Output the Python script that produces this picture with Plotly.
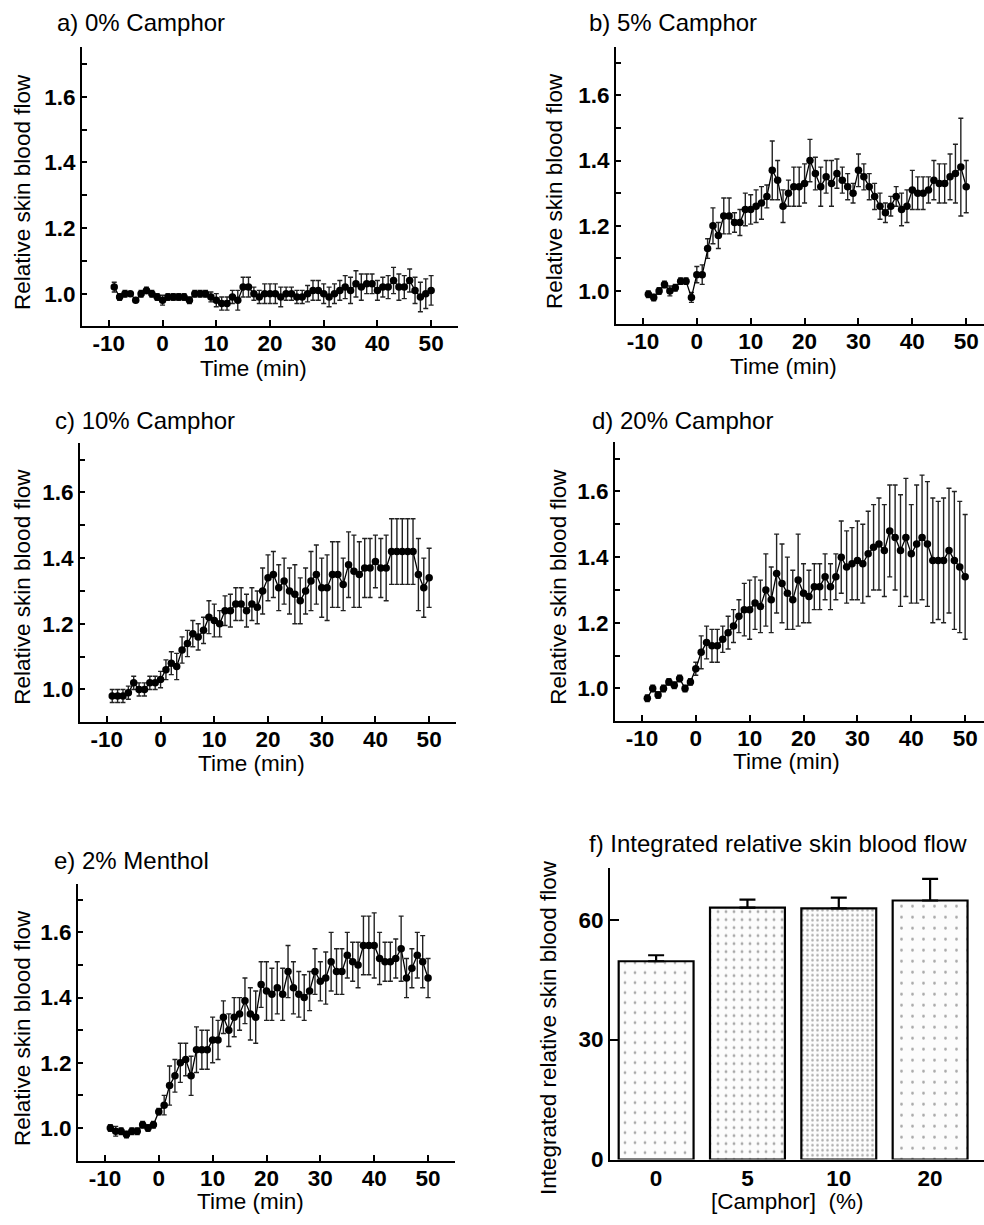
import plotly.graph_objects as go

W, H = 984, 1225

time_min = list(range(-9, 51))

camphor0 = [1.02, 0.99, 1.00, 1.00, 0.98, 1.00, 1.01, 1.00, 0.99,
            0.98, 0.99, 0.99, 0.99, 0.99, 0.98, 1.00, 1.00, 1.00, 0.99,
            0.98, 0.97, 0.97, 0.99, 0.98, 1.02, 1.02, 1.00, 0.99, 1.00,
            1.00, 1.00, 0.99, 1.00, 1.00, 0.99, 0.99, 1.00, 1.01, 1.01,
            1.00, 0.99, 1.00, 1.01, 1.02, 1.01, 1.03, 1.02, 1.03, 1.03,
            1.01, 1.02, 1.02, 1.04, 1.02, 1.02, 1.04, 1.01, 0.99, 1.00, 1.01]
camphor0_err = [0.015, 0.01, 0.01, 0.005, 0.005, 0.01, 0.01, 0.01, 0.01,
                0.015, 0.01, 0.01, 0.01, 0.01, 0.01, 0.01, 0.01, 0.01, 0.015,
                0.02, 0.02, 0.02, 0.02, 0.03, 0.03, 0.03, 0.02, 0.02, 0.03,
                0.03, 0.03, 0.03, 0.02, 0.02, 0.02, 0.02, 0.025, 0.03, 0.03,
                0.03, 0.03, 0.03, 0.03, 0.035, 0.04, 0.04, 0.04, 0.03, 0.03,
                0.03, 0.03, 0.035, 0.04, 0.04, 0.035, 0.035, 0.04, 0.045, 0.045, 0.045]

camphor5 = [0.99, 0.98, 1.00, 1.02, 1.00, 1.01, 1.03, 1.03, 0.98,
            1.05, 1.05, 1.13, 1.20, 1.17, 1.23, 1.23, 1.21, 1.21, 1.25,
            1.25, 1.26, 1.27, 1.29, 1.37, 1.34, 1.26, 1.30, 1.32, 1.32,
            1.33, 1.40, 1.36, 1.32, 1.35, 1.33, 1.36, 1.34, 1.32, 1.30,
            1.37, 1.35, 1.32, 1.29, 1.26, 1.24, 1.26, 1.29, 1.25, 1.26,
            1.31, 1.30, 1.30, 1.31, 1.34, 1.33, 1.33, 1.35, 1.36, 1.38, 1.32]
camphor5_err = [0.01, 0.01, 0.01, 0.01, 0.015, 0.01, 0.01, 0.01, 0.015,
                0.025, 0.03, 0.03, 0.055, 0.04, 0.055, 0.055, 0.03, 0.04, 0.05,
                0.045, 0.05, 0.05, 0.035, 0.09, 0.06, 0.05, 0.04, 0.06, 0.06,
                0.06, 0.065, 0.05, 0.06, 0.05, 0.07, 0.045, 0.04, 0.04, 0.03,
                0.05, 0.04, 0.04, 0.04, 0.04, 0.03, 0.03, 0.03, 0.05, 0.05,
                0.06, 0.05, 0.05, 0.04, 0.06, 0.06, 0.06, 0.07, 0.09, 0.15, 0.08]

camphor10 = [0.98, 0.98, 0.98, 0.99, 1.02, 1.00, 1.00, 1.02, 1.02,
             1.03, 1.06, 1.08, 1.07, 1.12, 1.14, 1.17, 1.16, 1.18, 1.22,
             1.21, 1.20, 1.24, 1.24, 1.26, 1.26, 1.24, 1.26, 1.25, 1.30,
             1.34, 1.35, 1.31, 1.33, 1.30, 1.29, 1.27, 1.30, 1.33, 1.35,
             1.31, 1.31, 1.35, 1.35, 1.32, 1.38, 1.36, 1.35, 1.37, 1.37,
             1.39, 1.37, 1.37, 1.42, 1.42, 1.42, 1.42, 1.42, 1.35, 1.31, 1.34]
camphor10_err = [0.02, 0.02, 0.02, 0.02, 0.02, 0.02, 0.02, 0.02, 0.02,
                 0.025, 0.03, 0.035, 0.04, 0.04, 0.04, 0.04, 0.04, 0.04, 0.05,
                 0.05, 0.04, 0.045, 0.05, 0.05, 0.05, 0.05, 0.05, 0.05, 0.07,
                 0.07, 0.07, 0.07, 0.07, 0.07, 0.09, 0.07, 0.07, 0.09, 0.09,
                 0.09, 0.10, 0.10, 0.10, 0.08, 0.10, 0.11, 0.10, 0.09, 0.09,
                 0.08, 0.09, 0.10, 0.10, 0.10, 0.10, 0.10, 0.10, 0.11, 0.09, 0.09]

camphor20 = [0.97, 1.00, 0.98, 1.00, 1.02, 1.01, 1.03, 1.00, 1.02,
             1.06, 1.11, 1.14, 1.13, 1.13, 1.15, 1.17, 1.19, 1.22, 1.24,
             1.24, 1.26, 1.25, 1.30, 1.27, 1.35, 1.32, 1.29, 1.27, 1.33,
             1.29, 1.28, 1.31, 1.31, 1.34, 1.31, 1.34, 1.40, 1.37, 1.38,
             1.39, 1.38, 1.41, 1.43, 1.44, 1.42, 1.48, 1.46, 1.42, 1.46,
             1.41, 1.44, 1.46, 1.44, 1.39, 1.39, 1.39, 1.42, 1.39, 1.37, 1.34]
camphor20_err = [0.01, 0.01, 0.01, 0.01, 0.01, 0.01, 0.01, 0.01, 0.01,
                 0.02, 0.05, 0.05, 0.05, 0.05, 0.04, 0.05, 0.05, 0.05, 0.08,
                 0.09, 0.08, 0.08, 0.11, 0.10, 0.12, 0.12, 0.11, 0.09, 0.14,
                 0.09, 0.08, 0.07, 0.07, 0.07, 0.07, 0.07, 0.11, 0.11, 0.11,
                 0.12, 0.12, 0.13, 0.13, 0.14, 0.14, 0.14, 0.16, 0.17, 0.18,
                 0.15, 0.18, 0.19, 0.19, 0.19, 0.18, 0.19, 0.19, 0.21, 0.20, 0.19]

menthol2 = [1.00, 0.99, 0.99, 0.98, 0.99, 0.99, 1.01, 1.00, 1.01,
            1.05, 1.07, 1.13, 1.16, 1.20, 1.21, 1.16, 1.24, 1.24, 1.24,
            1.27, 1.27, 1.34, 1.30, 1.34, 1.35, 1.39, 1.35, 1.34, 1.44,
            1.42, 1.41, 1.43, 1.41, 1.48, 1.43, 1.41, 1.40, 1.42, 1.48,
            1.45, 1.46, 1.51, 1.48, 1.48, 1.53, 1.51, 1.50, 1.56, 1.56,
            1.56, 1.52, 1.51, 1.51, 1.52, 1.55, 1.46, 1.49, 1.53, 1.51, 1.46]
menthol2_err = [0.01, 0.015, 0.01, 0.01, 0.01, 0.01, 0.01, 0.01, 0.01,
                0.01, 0.03, 0.06, 0.05, 0.06, 0.05, 0.06, 0.07, 0.06, 0.06,
                0.07, 0.06, 0.05, 0.05, 0.06, 0.05, 0.07, 0.08, 0.08, 0.07,
                0.09, 0.08, 0.08, 0.08, 0.08, 0.08, 0.07, 0.07, 0.06, 0.07,
                0.06, 0.08, 0.09, 0.07, 0.07, 0.07, 0.06, 0.07, 0.09, 0.09,
                0.10, 0.08, 0.06, 0.06, 0.06, 0.10, 0.06, 0.06, 0.07, 0.08, 0.06]

x_tickvals = [-10, 0, 10, 20, 30, 40, 50]
x_ticktext = ["-10", "0", "10", "20", "30", "40", "50"]
y_tickvals = [1.0, 1.2, 1.4, 1.6]
y_ticktext = ["1.0", "1.2", "1.4", "1.6"]

bar_labels = ["0", "5", "10", "20"]
bar_values = [49.6, 63.0, 62.8, 64.8]
bar_errors = [1.5, 2.0, 2.7, 5.4]

panel_titles = ["a) 0% Camphor", "b) 5% Camphor", "c) 10% Camphor",
                "d) 20% Camphor", "e) 2% Menthol", "f) Integrated relative skin blood flow"]

FONT = "Liberation Sans, Arial, Helvetica, sans-serif"


def px_x(p):
    return p / W


def px_y(p):
    return 1 - p / H


fig = go.Figure()

panels = [
    (camphor0, camphor0_err, (82, 458), (48, 330), [-15, 55]),
    (camphor5, camphor5_err, (616, 984), (47, 327), [-15, 53.3]),
    (camphor10, camphor10_err, (80, 456), (448, 730), [-15, 55]),
    (camphor20, camphor20_err, (615, 984), (447, 729), [-15, 53.5]),
    (menthol2, menthol2_err, (78, 455), (893, 1173), [-15, 55]),
]

axis_common = dict(showline=True, linecolor="black", linewidth=2, mirror=False,
                   showgrid=False, zeroline=False, ticks="inside", tickcolor="black",
                   tickwidth=1.5,
                   tickfont=dict(family=FONT, size=22.5, color="black", weight="bold"))

layout_axes = {}
for i, (vals, errs, xd, yd, xr) in enumerate(panels):
    n = i + 1
    xa = "x" if n == 1 else f"x{n}"
    ya = "y" if n == 1 else f"y{n}"
    fig.add_trace(go.Scatter(
        x=time_min, y=vals, mode="lines+markers", xaxis=xa, yaxis=ya,
        line=dict(color="black", width=1.3),
        marker=dict(color="black", size=7.5, symbol="circle"),
        error_y=dict(type="data", array=errs, visible=True, color="#222222",
                     thickness=1.4, width=2.5),
        showlegend=False, cliponaxis=False))
    xkey = "xaxis" if n == 1 else f"xaxis{n}"
    ykey = "yaxis" if n == 1 else f"yaxis{n}"
    layout_axes[xkey] = dict(axis_common, domain=[px_x(xd[0]), min(px_x(xd[1]), 1.0)],
                             range=xr, anchor=ya, tickmode="array",
                             tickvals=x_tickvals, ticktext=x_ticktext, ticklen=6,
                             ticklabelstandoff=-4)
    layout_axes[ykey] = dict(axis_common, domain=[px_y(yd[1]), px_y(yd[0])],
                             range=[0.9, 1.75], anchor=xa, tickmode="array",
                             tickvals=y_tickvals, ticktext=y_ticktext,
                             ticklen=5,
                             minor=dict(tickvals=[1.1, 1.3, 1.5, 1.7], ticks="inside",
                                        ticklen=5, tickcolor="black", tickwidth=1.5))

fig.add_trace(go.Bar(
    x=[0, 1, 2, 3], y=bar_values, xaxis="x6", yaxis="y6", width=0.82,
    marker=dict(color="white", line=dict(color="black", width=2.2),
                pattern=dict(shape=".", fgcolor="#555555", bgcolor="#fcfcfc",
                             size=[10, 8, 5, 11], solidity=[0.06, 0.1, 0.2, 0.05])),
    error_y=dict(type="data", symmetric=False, array=bar_errors,
                 arrayminus=[0, 0, 0, 0], color="black", thickness=2.2, width=8),
    showlegend=False))

layout_axes["xaxis6"] = dict(axis_common, domain=[px_x(610), 1.0], range=[-0.505, 3.59],
                             anchor="y6", tickmode="array", tickvals=[0, 1, 2, 3],
                             ticktext=bar_labels, ticks="", ticklabelstandoff=-3)
layout_axes["yaxis6"] = dict(axis_common, domain=[px_y(1172), px_y(877)], range=[0, 73],
                             anchor="x6", tickmode="array", tickvals=[0, 30, 60],
                             ticklen=9)

annotations = []


def ann(text, x, y, xanchor="center", yanchor="middle", angle=0, size=23):
    annotations.append(dict(text=text, x=px_x(x), y=px_y(y), xref="paper", yref="paper",
                            xanchor=xanchor, yanchor=yanchor, showarrow=False,
                            textangle=angle,
                            font=dict(family=FONT, size=size, color="black")))


ann(panel_titles[0], 55, 23, xanchor="left", size=24)
ann(panel_titles[1], 587, 23, xanchor="left", size=24)
ann(panel_titles[2], 53, 425, xanchor="left", size=24)
ann(panel_titles[3], 590, 425, xanchor="left", size=24)
ann(panel_titles[4], 52, 870, xanchor="left", size=24)
ann(panel_titles[5], 587, 853, xanchor="left", size=24)

ylab = "Relative skin blood flow"
ann(ylab, 23, 194, angle=-90, size=22.5)
ann(ylab, 555, 193, angle=-90, size=22.5)
ann(ylab, 23, 593, angle=-90, size=22.5)
ann(ylab, 559, 593, angle=-90, size=22.5)
ann(ylab, 23, 1039, angle=-90, size=22.5)
ann("Integrated relative skin blood flow", 549, 1039, angle=-90, size=22.5)

ann("Time (min)", 253, 372, size=22.5)
ann("Time (min)", 783, 370, size=22.5)
ann("Time (min)", 251, 772, size=22.5)
ann("Time (min)", 786, 770, size=22.5)
ann("Time (min)", 250, 1214, size=22.5)
ann("[Camphor]  (%)", 787, 1214, size=22.5)

fig.update_layout(width=W, height=H, margin=dict(l=0, r=0, t=0, b=0),
                  paper_bgcolor="white", plot_bgcolor="white",
                  annotations=annotations, **layout_axes)

fig.write_html("out.html", config={"displayModeBar": False},
               post_script="document.body.style.margin='0';document.body.style.overflow='hidden';")
